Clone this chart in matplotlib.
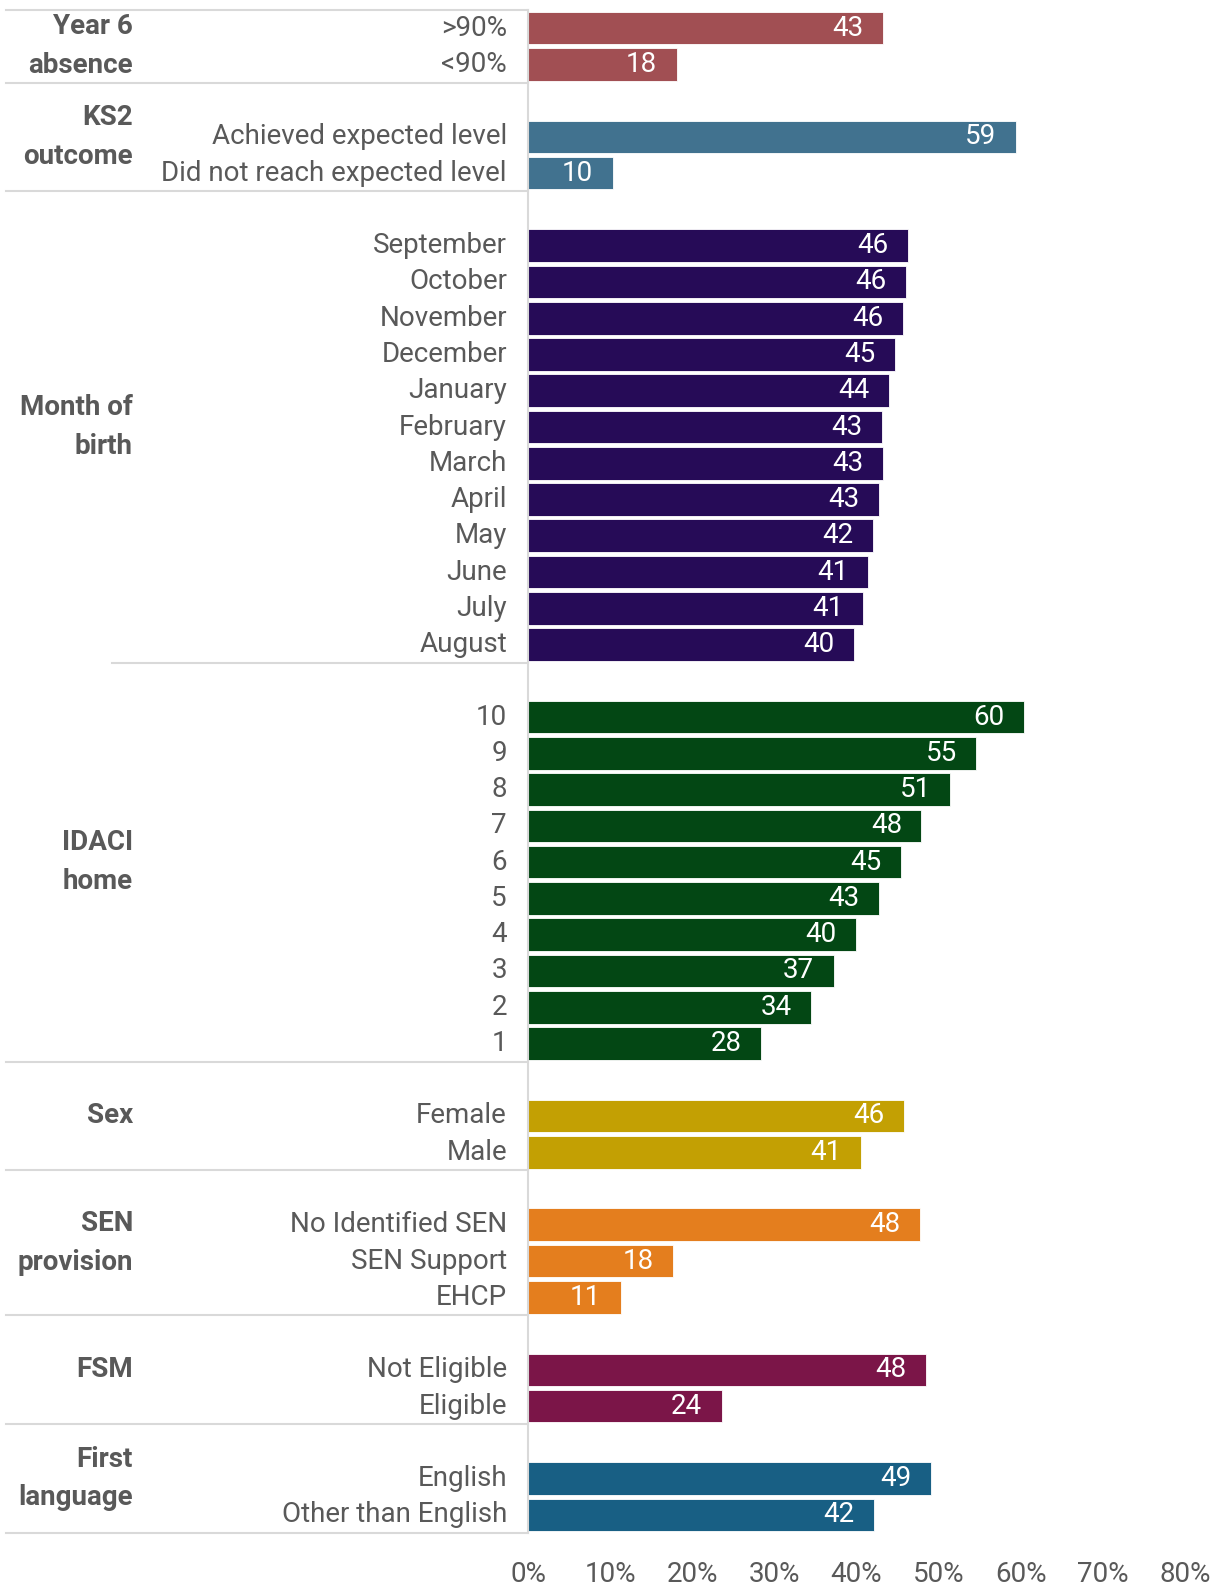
import matplotlib.pyplot as plt
from matplotlib.transforms import blended_transform_factory

plt.rcParams['font.family'] = ['Roboto', 'DejaVu Sans']

group_names = ["Year 6\nabsence", "KS2\noutcome", "Month of\nbirth", "IDACI\nhome",
               "Sex", "SEN\nprovision", "FSM", "First\nlanguage"]
group_colors = ["#A14F53", "#41728F", "#260B57", "#034714",
                "#C3A003", "#E47E1E", "#7B1548", "#185F84"]

absence_cats = [">90%", "<90%"]
absence_vals = [43.2, 18.1]
ks2_cats = ["Achieved expected level", "Did not reach expected level"]
ks2_vals = [59.4, 10.3]
month_cats = ["September", "October", "November", "December", "January", "February",
              "March", "April", "May", "June", "July", "August"]
month_vals = [46.3, 46.0, 45.7, 44.7, 43.9, 43.1, 43.2, 42.7, 42.0, 41.4, 40.8, 39.7]
idaci_cats = ["10", "9", "8", "7", "6", "5", "4", "3", "2", "1"]
idaci_vals = [60.4, 54.6, 51.4, 47.9, 45.4, 42.7, 39.9, 37.2, 34.5, 28.4]
sex_cats = ["Female", "Male"]
sex_vals = [45.8, 40.6]
sen_cats = ["No Identified SEN", "SEN Support", "EHCP"]
sen_vals = [47.7, 17.7, 11.3]
fsm_cats = ["Not Eligible", "Eligible"]
fsm_vals = [48.5, 23.6]
lang_cats = ["English", "Other than English"]
lang_vals = [49.1, 42.1]

groups = [(absence_cats, absence_vals), (ks2_cats, ks2_vals), (month_cats, month_vals),
          (idaci_cats, idaci_vals), (sex_cats, sex_vals), (sen_cats, sen_vals),
          (fsm_cats, fsm_vals), (lang_cats, lang_vals)]

W, H = 1226, 1588
fig = plt.figure(figsize=(W / 100, H / 100), dpi=100)
ax = fig.add_axes([528 / W, 1 - 1533 / H, (1185 - 528) / W, (1533 - 10) / H])

gray = "#595959"
line_c = "#D9D9D9"
fs = 20
trans = blended_transform_factory(fig.transFigure, ax.transData)

pos = 0
dividers = [-0.5]
for i, (cats, vals) in enumerate(groups):
    if i > 0:
        pos += 1  # blank slot before each group
    start = dividers[-1]
    ys = list(range(pos, pos + len(cats)))
    ax.barh(ys, vals, height=0.9, color=group_colors[i], edgecolor="white", linewidth=0.6)
    for y, c, v in zip(ys, cats, vals):
        ax.text(507 / W, y, c, transform=trans, ha="right", va="center",
                fontsize=fs, color=gray)
        ax.annotate(f"{v:.0f}", (v, y), xytext=(-14, 0), textcoords="offset points",
                    ha="right", va="center", color="white", fontsize=fs)
    pos += len(cats)
    end = pos - 0.5
    dividers.append(end)
    ax.text(133 / W, (start + end) / 2, group_names[i], transform=trans, ha="right",
            va="center", fontsize=fs, fontweight="bold", color=gray, linespacing=1.55)

for j, d in enumerate(dividers):
    x0 = 112 / W if j == 3 else 6 / W
    ax.plot([x0, 528 / W], [d, d], transform=trans, color=line_c, lw=1.5, clip_on=False)

ax.set_ylim(dividers[-1], -0.5)
ax.set_xlim(0, 80)
ax.set_yticks([])
ax.set_xticks(range(0, 81, 10))
ax.set_xticklabels([f"{t}%" for t in range(0, 81, 10)], fontsize=fs, color=gray)
ax.tick_params(axis="x", length=0, pad=20)
for s in ["top", "right", "bottom"]:
    ax.spines[s].set_visible(False)
ax.spines["left"].set_color(line_c)
ax.spines["left"].set_linewidth(1.5)

fig.savefig("out.png", dpi=100)
